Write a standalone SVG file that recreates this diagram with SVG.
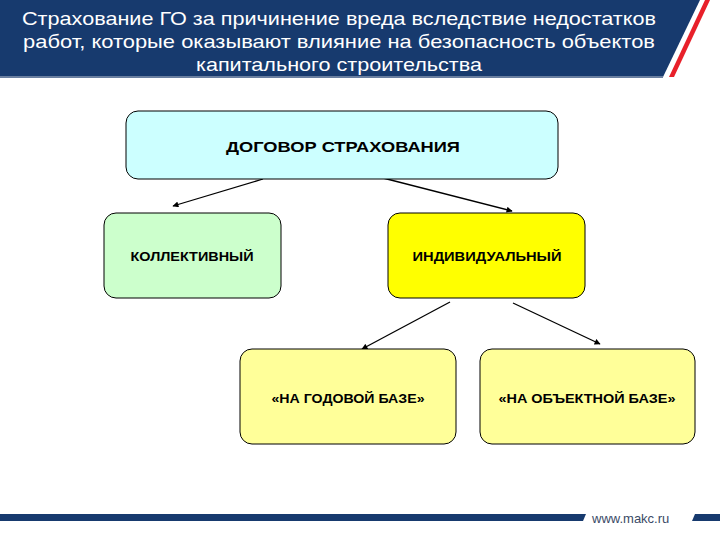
<svg xmlns="http://www.w3.org/2000/svg" width="720" height="540" viewBox="0 0 720 540">
<style>
.node rect{stroke:#000;stroke-width:1}
.lbl{font-family:"Liberation Sans",Arial,sans-serif;font-weight:bold;fill:#000;text-anchor:middle}
.hdr{font-family:"Liberation Sans",Arial,sans-serif;fill:#fff;font-size:19px;text-anchor:middle}
.conn line{stroke:#000;stroke-width:1.3;marker-end:url(#ah)}
</style>
<defs>
<marker id="ah" viewBox="0 0 10 10" refX="9" refY="5" markerWidth="8" markerHeight="6" orient="auto" markerUnits="userSpaceOnUse">
<path d="M0,0 L10,5 L0,10 z" fill="#000"/>
</marker>
</defs>
<rect width="720" height="540" fill="#fff"/>
<g id="header">
<polygon points="0,0 700,0 663,77 0,77" fill="#173a6e"/>
<polygon points="705,0 710,0 674,77 669,77" fill="#e8202a"/>
<rect x="0" y="76" width="663" height="2" fill="#6a7fa0"/>
<text class="hdr" x="339" y="25" textLength="634" lengthAdjust="spacingAndGlyphs">Страхование ГО за причинение вреда вследствие недостатков</text>
<text class="hdr" x="339" y="48" textLength="632" lengthAdjust="spacingAndGlyphs">работ, которые оказывают влияние на безопасность объектов</text>
<text class="hdr" x="339" y="71" textLength="286" lengthAdjust="spacingAndGlyphs">капитального строительства</text>
</g>
<g id="footer">
<polygon points="0,514 586,514 583,521 0,521" fill="#173a6e"/>
<polygon points="695,514 720,514 720,521 692,521" fill="#173a6e"/>
<text x="592" y="523" font-family="Liberation Sans,Arial,sans-serif" font-size="13" fill="#3a4a66">www.makc.ru</text>
</g>
<g class="conn" id="connectors">
<line x1="263" y1="179" x2="173" y2="206"/>
<line x1="383" y1="178" x2="512" y2="211"/>
<line x1="450" y1="302" x2="362" y2="349"/>
<line x1="513" y1="303" x2="600" y2="344"/>
</g>
<g class="node" id="n-dogovor">
<rect x="126" y="111" width="432" height="68" rx="12" fill="#ccffff"/>
<text class="lbl" x="343" y="152" font-size="15" textLength="234" lengthAdjust="spacingAndGlyphs">ДОГОВОР СТРАХОВАНИЯ</text>
</g>
<g class="node" id="n-kollektiv">
<rect x="104" y="213" width="177" height="85" rx="12" fill="#ccffcc"/>
<text class="lbl" x="192" y="261" font-size="12.5" textLength="123" lengthAdjust="spacingAndGlyphs">КОЛЛЕКТИВНЫЙ</text>
</g>
<g class="node" id="n-individ">
<rect x="388" y="213" width="197" height="85" rx="12" fill="#ffff00"/>
<text class="lbl" x="487" y="261" font-size="12.5" textLength="149" lengthAdjust="spacingAndGlyphs">ИНДИВИДУАЛЬНЫЙ</text>
</g>
<g class="node" id="n-godovoy">
<rect x="240" y="349" width="216" height="95" rx="12" fill="#ffff99"/>
<text class="lbl" x="348" y="403" font-size="12.5" textLength="153" lengthAdjust="spacingAndGlyphs">«НА ГОДОВОЙ БАЗЕ»</text>
</g>
<g class="node" id="n-obekt">
<rect x="480" y="349" width="215" height="95" rx="12" fill="#ffff99"/>
<text class="lbl" x="587" y="403" font-size="12.5" textLength="177" lengthAdjust="spacingAndGlyphs">«НА ОБЪЕКТНОЙ БАЗЕ»</text>
</g>
</svg>
